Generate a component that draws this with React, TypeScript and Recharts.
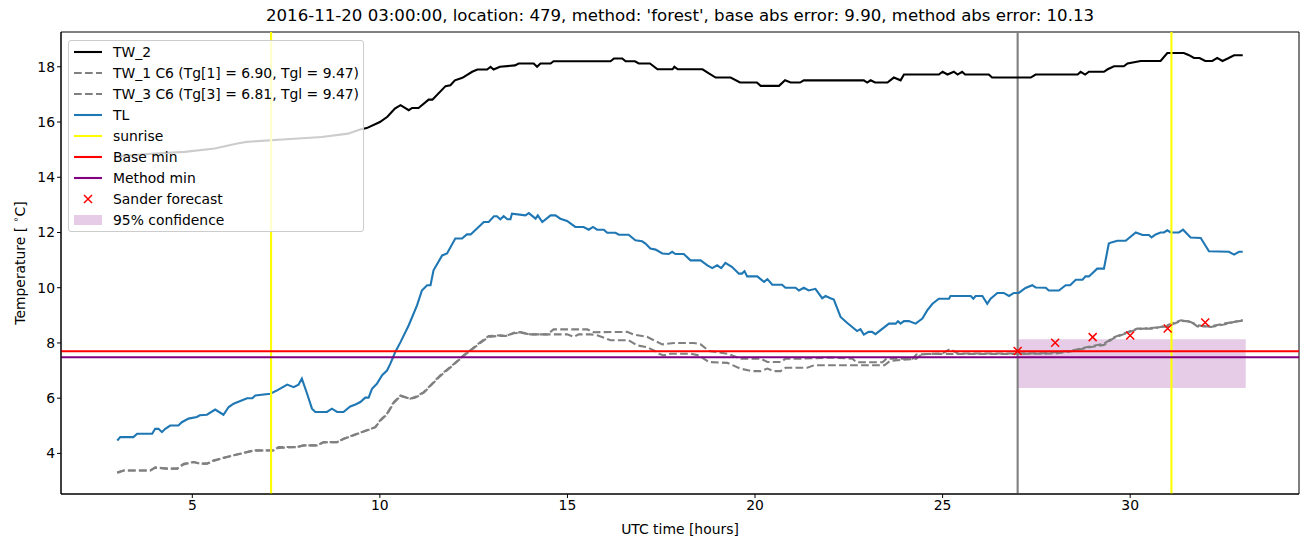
import React from "react"
import {
  ComposedChart,
  Line,
  Scatter,
  XAxis,
  YAxis,
  ReferenceLine,
  ReferenceArea,
  Legend,
} from "recharts"

const tw2Hours = [
  3.0, 3.5, 4.0, 4.8, 5.6, 6.2, 6.45, 7.3, 8.45, 9.15, 9.45, 9.65, 10.0, 10.2, 10.4, 10.55, 10.77, 10.86,
  11.03, 11.3, 11.4, 11.75, 11.88, 12.0, 12.2, 12.46, 12.6, 12.86, 12.95, 13.03, 13.2, 13.6, 13.7, 14.1,
  14.19, 14.28, 14.55, 14.63, 16.15, 16.24, 16.46, 16.55, 16.8, 16.9, 17.2, 17.4, 17.8, 17.85, 17.94,
  18.6, 18.77, 18.95, 19.35, 19.6, 20.05, 20.15, 20.64, 20.8, 20.95, 21.2, 21.3, 22.9, 22.99, 23.08,
  23.2, 23.53, 23.7, 23.88, 23.97, 24.9, 25.0, 25.13, 25.3, 25.4, 25.52, 25.6, 26.23, 26.32, 27.35,
  27.48, 28.6, 28.68, 28.8, 28.9, 29.3, 29.4, 29.57, 29.83, 29.93, 30.28, 30.81, 30.99, 31.43, 31.57,
  31.7, 31.85, 32.0, 32.19, 32.32, 32.46, 32.6, 32.77, 33.0,
]
const tw2Temps = [
  14.75, 14.8, 14.86, 14.92, 15.04, 15.22, 15.28, 15.36, 15.46, 15.58, 15.72, 15.78, 16.0, 16.19, 16.49,
  16.61, 16.43, 16.51, 16.51, 16.81, 16.81, 17.3, 17.33, 17.51, 17.6, 17.82, 17.9, 17.9, 18.0, 17.9,
  18.0, 18.05, 18.12, 18.12, 18.0, 18.12, 18.12, 18.2, 18.2, 18.3, 18.3, 18.2, 18.2, 18.12, 18.12,
  17.91, 17.91, 18.0, 17.91, 17.91, 17.76, 17.61, 17.61, 17.43, 17.43, 17.31, 17.31, 17.51, 17.43,
  17.43, 17.51, 17.51, 17.43, 17.51, 17.43, 17.43, 17.61, 17.51, 17.72, 17.72, 17.82, 17.72, 17.82,
  17.72, 17.82, 17.72, 17.72, 17.61, 17.61, 17.72, 17.72, 17.82, 17.72, 17.82, 17.82, 17.91, 18.02,
  18.02, 18.12, 18.21, 18.21, 18.5, 18.5, 18.42, 18.32, 18.32, 18.21, 18.21, 18.32, 18.21, 18.3,
  18.42, 18.42,
]

const tlHours = [
  3.0, 3.08, 3.43, 3.53, 3.93, 4.01, 4.1, 4.19, 4.28, 4.41, 4.63, 4.72, 4.9, 5.12, 5.2, 5.39, 5.61, 5.83,
  5.97, 6.1, 6.28, 6.46, 6.6, 6.68, 7.08, 7.26, 7.53, 7.7, 7.83, 7.92, 8.06, 8.19, 8.28, 8.59, 8.72,
  8.86, 9.03, 9.21, 9.35, 9.48, 9.61, 9.7, 9.79, 9.92, 10.06, 10.19, 10.28, 10.41, 10.55, 10.77, 10.99,
  11.12, 11.26, 11.35, 11.43, 11.66, 11.79, 12.01, 12.19, 12.32, 12.42, 12.68, 12.77, 12.9, 13.04,
  13.12, 13.21, 13.3, 13.4, 13.48, 13.52, 13.88, 13.97, 14.15, 14.21, 14.33, 14.55, 14.68, 14.81,
  14.99, 15.21, 15.43, 15.57, 15.68, 15.79, 15.97, 16.06, 16.28, 16.37, 16.63, 16.81, 16.99, 17.08,
  17.21, 17.35, 17.53, 17.7, 17.79, 17.88, 18.1, 18.28, 18.55, 18.73, 18.86, 18.99, 19.1, 19.21,
  19.39, 19.57, 19.65, 19.72, 19.79, 20.06, 20.24, 20.33, 20.46, 20.72, 20.81, 21.08, 21.17, 21.3,
  21.43, 21.61, 21.79, 21.88, 22.01, 22.1, 22.28, 22.46, 22.72, 22.81, 22.9, 23.03, 23.12, 23.21,
  23.57, 23.75, 23.81, 23.88, 23.97, 24.1, 24.28, 24.46, 24.59, 24.73, 24.9, 25.17, 25.21, 25.75,
  25.82, 25.88, 26.06, 26.19, 26.28, 26.46, 26.63, 26.77, 26.9, 27.03, 27.21, 27.39, 27.48, 27.75,
  27.83, 28.1, 28.28, 28.4, 28.55, 28.73, 28.81, 28.9, 29.12, 29.3, 29.43, 29.52, 29.66, 29.88, 30.15,
  30.33, 30.5, 30.57, 30.68, 30.81, 30.9, 30.99, 31.08, 31.3, 31.41, 31.61, 31.88, 32.1, 32.63, 32.77,
  32.9, 33.0,
]
const tlTemps = [
  4.47, 4.59, 4.59, 4.71, 4.71, 4.89, 4.89, 4.77, 4.89, 5.01, 5.01, 5.13, 5.26, 5.32, 5.38, 5.4, 5.59,
  5.4, 5.68, 5.8, 5.9, 6.0, 6.0, 6.1, 6.16, 6.28, 6.49, 6.4, 6.49, 6.71, 6.16, 5.62, 5.5, 5.5, 5.62, 5.5,
  5.5, 5.7, 5.77, 5.86, 6.02, 6.02, 6.34, 6.52, 6.83, 7.0, 7.25, 7.67, 8.03, 8.64, 9.36, 9.9, 10.09,
  10.09, 10.63, 11.17, 11.24, 11.78, 11.78, 11.93, 11.93, 12.26, 12.38, 12.38, 12.59, 12.59, 12.48,
  12.59, 12.48, 12.48, 12.68, 12.62, 12.7, 12.5, 12.62, 12.38, 12.62, 12.62, 12.5, 12.42, 12.2, 12.2,
  12.1, 12.2, 12.1, 12.1, 11.99, 11.99, 11.92, 11.92, 11.72, 11.68, 11.6, 11.42, 11.38, 11.24, 11.22,
  11.3, 11.22, 11.22, 10.99, 10.99, 10.81, 10.71, 10.81, 10.71, 10.9, 10.75, 10.51, 10.51, 10.6, 10.41,
  10.41, 10.21, 10.31, 10.11, 10.11, 10.0, 10.0, 9.9, 10.0, 9.9, 9.96, 9.62, 9.7, 9.62, 9.57, 8.94,
  8.72, 8.43, 8.5, 8.3, 8.4, 8.4, 8.32, 8.7, 8.7, 8.79, 8.7, 8.79, 8.79, 8.7, 8.88, 9.18, 9.42, 9.6,
  9.6, 9.7, 9.7, 9.6, 9.7, 9.7, 9.42, 9.6, 9.81, 9.81, 9.7, 9.81, 9.81, 9.99, 10.09, 10.01, 10.0, 9.9,
  9.9, 10.09, 10.09, 10.29, 10.29, 10.41, 10.41, 10.69, 10.69, 11.6, 11.65, 11.7, 11.7, 12.0, 11.91,
  11.91, 11.82, 11.93, 12.0, 12.0, 12.08, 12.0, 12.0, 12.1, 11.82, 11.8, 11.32, 11.3, 11.2, 11.3, 11.3,
]

const tw1Hours = [
  3.0, 3.17, 3.88, 4.01, 4.33, 4.6, 4.77, 5.04, 5.21, 5.39, 5.57, 5.75, 6.1, 6.63, 7.17, 7.3, 7.79, 7.97,
  8.33, 8.5, 8.86, 9.03, 9.39, 9.75, 9.88, 10.01, 10.19, 10.37, 10.55, 10.81, 10.95, 11.17, 11.39,
  11.61, 11.93, 12.23, 12.46, 12.68, 12.9, 13.21, 13.35, 13.57, 13.75, 14.01, 14.46, 14.63, 15.53,
  15.7, 16.59, 16.77, 17.12, 17.3, 17.53, 17.84, 18.37, 18.55, 18.77, 19.26, 19.61, 20.15, 20.33,
  20.7, 20.81, 21.21, 22.01, 22.6, 22.7, 23.4, 23.5, 24.2, 24.3, 25.0, 25.2, 25.4, 27.0, 27.7, 28.41,
  28.86, 29.3, 29.57, 29.83, 30.19, 30.63, 30.99, 31.35, 31.61, 31.79, 32.15, 32.5, 32.95, 33.0,
]
const tw1Temps = [
  3.29, 3.38, 3.38, 3.5, 3.45, 3.45, 3.63, 3.69, 3.63, 3.63, 3.75, 3.81, 3.93, 4.11, 4.11, 4.23, 4.23,
  4.29, 4.29, 4.41, 4.41, 4.53, 4.71, 4.89, 4.95, 5.2, 5.44, 5.86, 6.1, 5.98, 6.05, 6.22, 6.52, 6.83,
  7.19, 7.55, 7.79, 8.03, 8.25, 8.28, 8.25, 8.37, 8.39, 8.31, 8.31, 8.49, 8.49, 8.39, 8.4, 8.3, 8.22,
  8.1, 7.95, 8.0, 8.0, 7.95, 7.71, 7.61, 7.43, 7.43, 7.31, 7.31, 7.43, 7.43, 7.47, 7.43, 7.3, 7.3, 7.43,
  7.43, 7.58, 7.62, 7.78, 7.62, 7.62, 7.63, 7.71, 7.85, 7.97, 8.21, 8.34, 8.52, 8.52, 8.64, 8.82, 8.76,
  8.64, 8.58, 8.67, 8.82, 8.82,
]

const tw3Hours = [
  3.0, 3.17, 3.88, 4.01, 4.33, 4.6, 4.77, 5.04, 5.21, 5.39, 5.57, 5.75, 6.1, 6.63, 7.17, 7.3, 7.79, 7.97,
  8.33, 8.5, 8.86, 9.03, 9.39, 9.75, 9.88, 10.01, 10.19, 10.37, 10.55, 10.81, 10.95, 11.17, 11.39,
  11.61, 11.93, 12.23, 12.46, 12.68, 12.9, 13.21, 13.35, 13.57, 13.75, 14.01, 14.46, 14.63, 14.99,
  15.17, 15.3, 15.61, 15.79, 16.15, 16.63, 16.86, 17.12, 17.3, 17.44, 17.57, 17.75, 18.28, 18.5,
  18.77, 19.26, 19.61, 19.92, 20.15, 20.33, 20.5, 20.68, 20.81, 21.39, 21.57, 22.01, 23.45, 23.6,
  24.3, 24.45, 25.3, 27.0, 28.0, 28.41, 28.86, 29.3, 29.57, 29.83, 30.19, 30.63, 30.99, 31.35, 31.61,
  31.79, 32.15, 32.5, 32.95, 33.0,
]
const tw3Temps = [
  3.32, 3.38, 3.38, 3.48, 3.45, 3.45, 3.6, 3.69, 3.63, 3.63, 3.72, 3.81, 3.93, 4.1, 4.11, 4.2, 4.23,
  4.29, 4.29, 4.4, 4.41, 4.52, 4.7, 4.88, 4.95, 5.18, 5.42, 5.82, 6.08, 5.98, 6.02, 6.2, 6.5, 6.8, 7.17,
  7.53, 7.77, 8.0, 8.22, 8.26, 8.25, 8.35, 8.37, 8.31, 8.31, 8.31, 8.31, 8.22, 8.31, 8.31, 8.28, 8.1,
  8.1, 7.91, 7.85, 7.73, 7.61, 7.55, 7.61, 7.61, 7.55, 7.31, 7.28, 7.07, 6.98, 6.98, 7.07, 6.98, 6.98,
  7.1, 7.1, 7.19, 7.19, 7.19, 7.35, 7.43, 7.6, 7.6, 7.6, 7.62, 7.69, 7.83, 7.93, 8.18, 8.32, 8.5, 8.55,
  8.6, 8.8, 8.78, 8.6, 8.6, 8.7, 8.8, 8.8,
]

const forecastHours = [27, 28, 29, 30, 31, 32]
const forecastTemps = [7.71, 8.01, 8.21, 8.27, 8.52, 8.74]

const sunriseHours = [7.1, 31.1]
const nowHour = 27
const baseMin = 7.7
const methodMin = 7.48
const confStart = 27
const confEnd = 33.08
const confLow = 6.37
const confHigh = 8.13

const xTicks = [5, 10, 15, 20, 25, 30]
const yTicks = [4, 6, 8, 10, 12, 14, 16, 18]
const xDomain = [1.5, 34.5]
const yDomain = [2.53, 19.26]

const zip = (hours: number[], temps: number[]) => hours.map((t, i) => ({ t, v: temps[i] }))

const tw2Data = zip(tw2Hours, tw2Temps)
const tw1Data = zip(tw1Hours, tw1Temps)
const tw3Data = zip(tw3Hours, tw3Temps)
const tlData = zip(tlHours, tlTemps)
const forecastData = zip(forecastHours, forecastTemps)

const FONT = "'DejaVu Sans', sans-serif"
const LW = 2.1
const DASH = "7.7 3.3"

const legendItems = [
  { label: "TW_2", kind: "line", color: "#000000" },
  { label: "TW_1 C6 (Tg[1] = 6.90, Tgl = 9.47)", kind: "dash", color: "#808080" },
  { label: "TW_3 C6 (Tg[3] = 6.81, Tgl = 9.47)", kind: "dash", color: "#808080" },
  { label: "TL", kind: "line", color: "#1f77b4" },
  { label: "sunrise", kind: "line", color: "#ffff00" },
  { label: "Base min", kind: "line", color: "#ff0000" },
  { label: "Method min", kind: "line", color: "#800080" },
  { label: "Sander forecast", kind: "x", color: "#ff0000" },
  { label: "95% confidence", kind: "patch", color: "#800080" },
]

function Handle({ kind, color }: { kind: string; color: string }) {
  return (
    <svg width={28} height={10} style={{ display: "block", flex: "none" }}>
      {kind === "line" && <line x1={0} y1={5} x2={28} y2={5} stroke={color} strokeWidth={LW} />}
      {kind === "dash" && (
        <line x1={0} y1={5} x2={28} y2={5} stroke={color} strokeWidth={LW} strokeDasharray={DASH} />
      )}
      {kind === "x" && <path d="M10,1 L18,9 M10,9 L18,1" stroke={color} strokeWidth={1.5} />}
      {kind === "patch" && <rect x={0} y={0} width={28} height={10} fill={color} fillOpacity={0.2} />}
    </svg>
  )
}

function LegendBox() {
  return (
    <div
      style={{
        background: "rgba(255,255,255,0.8)",
        border: "1px solid #cccccc",
        borderRadius: 3,
        padding: "1px 0 1px 5px",
        fontFamily: FONT,
        fontSize: 13.9,
        color: "#000",
        boxSizing: "border-box",
        width: 296,
      }}
    >
      {legendItems.map((item) => (
        <div key={item.label} style={{ display: "flex", alignItems: "center", height: 20.9 }}>
          <Handle kind={item.kind} color={item.color} />
          <span style={{ marginLeft: 11, whiteSpace: "nowrap" }}>{item.label}</span>
        </div>
      ))}
    </div>
  )
}

const XMarker = (props: any) => {
  const { cx, cy } = props
  if (cx == null || cy == null) return null
  return (
    <path
      d={`M${cx - 4},${cy - 4} L${cx + 4},${cy + 4} M${cx - 4},${cy + 4} L${cx + 4},${cy - 4}`}
      stroke="#ff0000"
      strokeWidth={1.5}
      fill="none"
    />
  )
}

export default function App() {
  const tick = { fill: "#000", fontSize: 13.9, fontFamily: FONT }
  return (
    <div style={{ position: "absolute", left: 0, top: 0, width: 1311, height: 547, background: "#fff", fontFamily: FONT }}>
      <div
        style={{
          position: "absolute",
          left: 0,
          width: 1360,
          top: 6,
          textAlign: "center",
          fontSize: 16.6,
          lineHeight: "20px",
          whiteSpace: "nowrap",
        }}
      >
        2016-11-20 03:00:00, location: 479, method: 'forest', base abs error: 9.90, method abs error: 10.13
      </div>
      <div
        style={{
          position: "absolute",
          left: 0,
          width: 1360,
          top: 520,
          textAlign: "center",
          fontSize: 13.9,
          lineHeight: "18px",
        }}
      >
        UTC time [hours]
      </div>
      <div
        style={{
          position: "absolute",
          left: 18,
          top: 263,
          transform: "translate(-50%, -50%) rotate(-90deg)",
          fontSize: 13.9,
          lineHeight: "18px",
          whiteSpace: "nowrap",
        }}
      >
        Temperature [ <sup style={{ fontSize: 9.5, verticalAlign: 6 }}>∘</sup>C]
      </div>
      <div style={{ position: "absolute", left: 0, top: 0 }}>
        <ComposedChart width={1311} height={547} margin={{ top: 32, right: 12, bottom: 13, left: 11 }}>
          <XAxis
            type="number"
            dataKey="t"
            domain={xDomain}
            ticks={xTicks}
            allowDataOverflow
            height={40}
            stroke="#000"
            tick={tick}
            tickSize={4}
            tickMargin={2}
          />
          <YAxis
            type="number"
            dataKey="v"
            domain={yDomain}
            ticks={yTicks}
            allowDataOverflow
            width={50}
            stroke="#000"
            tick={tick}
            tickSize={4}
            tickMargin={2}
          />
          <ReferenceArea
            x1={confStart}
            x2={confEnd}
            y1={confLow}
            y2={confHigh}
            fill="#800080"
            fillOpacity={0.2}
            stroke="none"
          />
          <ReferenceLine x={nowHour} stroke="#808080" strokeWidth={2.1} />
          <Line data={tw2Data} dataKey="v" stroke="#000000" strokeWidth={LW} dot={false} isAnimationActive={false} />
          <Line
            data={tw1Data}
            dataKey="v"
            stroke="#808080"
            strokeWidth={LW}
            strokeDasharray={DASH}
            dot={false}
            isAnimationActive={false}
          />
          <Line
            data={tw3Data}
            dataKey="v"
            stroke="#808080"
            strokeWidth={LW}
            strokeDasharray={DASH}
            dot={false}
            isAnimationActive={false}
          />
          <Line data={tlData} dataKey="v" stroke="#1f77b4" strokeWidth={LW} dot={false} isAnimationActive={false} />
          {sunriseHours.map((h) => (
            <ReferenceLine key={h} x={h} stroke="#ffff00" strokeWidth={LW} />
          ))}
          <ReferenceLine y={baseMin} stroke="#ff0000" strokeWidth={LW} />
          <ReferenceLine y={methodMin} stroke="#800080" strokeWidth={LW} />
          <Scatter data={forecastData} dataKey="v" shape={<XMarker />} isAnimationActive={false} />
          <ReferenceArea
            x1={xDomain[0]}
            x2={xDomain[1]}
            y1={yDomain[0]}
            y2={yDomain[1]}
            fill="none"
            stroke="#000"
            strokeWidth={1}
          />
          <Legend
            layout="vertical"
            align="center"
            verticalAlign="middle"
            content={() => <LegendBox />}
            wrapperStyle={{ left: 68, top: 40, width: 296, height: "auto" }}
          />
        </ComposedChart>
      </div>
    </div>
  )
}
